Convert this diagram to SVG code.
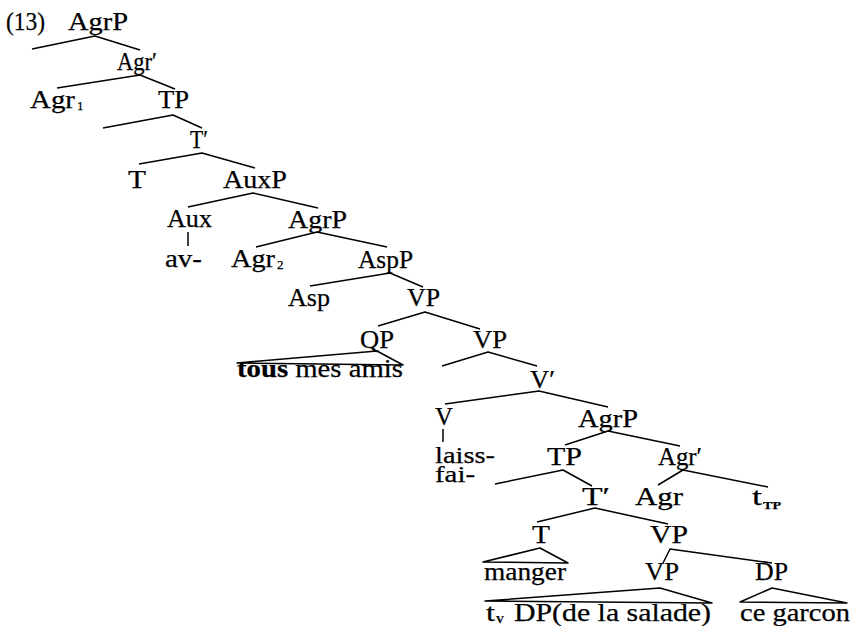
<svg xmlns="http://www.w3.org/2000/svg" width="853" height="626" viewBox="0 0 853 626">
  <style>
    text { font-family: "Liberation Serif", "Times New Roman", serif; font-size: 26px; fill: #000; stroke: #000; stroke-width: 0.25px; }
    .sub { font-size: 13px; }
    .subsc { font-size: 11px; font-weight: bold; }
    .b { font-weight: bold; }
    .lex { font-size: 24px; }
    .edge { fill: none; stroke: #000; stroke-width: 1.5; stroke-linejoin: round; }
  </style>
  <rect width="853" height="626" fill="#fff"/>

  <!-- connectors: branches, unary links and triangles -->
  <g id="connectors" class="edge">
    <polyline points="32,49 95,36 140,50"/>
    <polyline points="57,88 140,75 175,89"/>
    <polyline points="103,128 173,115 202,128"/>
    <polyline points="139,164 202,153 255,168"/>
    <polyline points="188,207 253,193 318,208"/>
    <line x1="188" y1="232" x2="188" y2="246"/>
    <polyline points="256,247 317,232 387,247"/>
    <polyline points="310,286 390,273 423,287"/>
    <polyline points="378,326 425,312 480,329"/>
    <polygon points="377,351 237,363 403,365"/>
    <polyline points="442,366 488,352 537,366"/>
    <polyline points="445,404 539,391 608,407"/>
    <line x1="443" y1="429" x2="443" y2="442"/>
    <polyline points="565,445 608,431 680,446"/>
    <polyline points="495,484 563,470 592,486"/>
    <polyline points="658,485 683,470 768,487"/>
    <polyline points="537,522 595,508 668,524"/>
    <polygon points="540,548 483,562 568,563"/>
    <polyline points="663,563 670,549 772,563"/>
    <polygon points="660,588 485,601 712,603"/>
    <polygon points="772,588 740,602 847,603"/>
  </g>

  <g id="ex-number"><text x="6" y="30" textLength="39" lengthAdjust="spacingAndGlyphs">(13)</text></g>
  <g id="n-agrp1"><text x="68" y="30" textLength="60" lengthAdjust="spacingAndGlyphs">AgrP</text></g>
  <g id="n-agrbar1"><text x="117" y="70" textLength="40" lengthAdjust="spacingAndGlyphs">Agr′</text></g>
  <g id="n-agr1"><text x="30" y="108" textLength="45" lengthAdjust="spacingAndGlyphs">Agr</text><text class="sub" x="77" y="110">1</text></g>
  <g id="n-tp1"><text x="158" y="108" textLength="31" lengthAdjust="spacingAndGlyphs">TP</text></g>
  <g id="n-tbar1"><text x="190" y="148" textLength="18" lengthAdjust="spacingAndGlyphs">T′</text></g>
  <g id="n-t1"><text x="128" y="188" textLength="18" lengthAdjust="spacingAndGlyphs">T</text></g>
  <g id="n-auxp"><text x="223" y="188" textLength="64" lengthAdjust="spacingAndGlyphs">AuxP</text></g>
  <g id="n-aux"><text x="167" y="227" textLength="45" lengthAdjust="spacingAndGlyphs">Aux</text></g>
  <g id="n-av"><text x="165" y="267" textLength="37" lengthAdjust="spacingAndGlyphs">av-</text></g>
  <g id="n-agrp2"><text x="288" y="228" textLength="59" lengthAdjust="spacingAndGlyphs">AgrP</text></g>
  <g id="n-agr2"><text x="231" y="267" textLength="44" lengthAdjust="spacingAndGlyphs">Agr</text><text class="sub" x="277" y="269">2</text></g>
  <g id="n-aspp"><text x="358" y="268" textLength="55" lengthAdjust="spacingAndGlyphs">AspP</text></g>
  <g id="n-asp"><text x="288" y="306" textLength="42" lengthAdjust="spacingAndGlyphs">Asp</text></g>
  <g id="n-vp1"><text x="407" y="306" textLength="33" lengthAdjust="spacingAndGlyphs">VP</text></g>
  <g id="n-qp"><text x="360" y="348" textLength="34" lengthAdjust="spacingAndGlyphs">QP</text></g>
  <g id="n-tous"><text x="237" y="377" textLength="166" lengthAdjust="spacingAndGlyphs"><tspan class="b">tous</tspan> mes amis</text></g>
  <g id="n-vp2"><text x="473" y="348" textLength="34" lengthAdjust="spacingAndGlyphs">VP</text></g>
  <g id="n-vbar"><text x="530" y="388" textLength="25" lengthAdjust="spacingAndGlyphs">V′</text></g>
  <g id="n-v"><text x="435" y="425" textLength="18" lengthAdjust="spacingAndGlyphs">V</text></g>
  <g id="n-laiss"><text class="lex" x="435" y="463" textLength="60" lengthAdjust="spacingAndGlyphs">laiss-</text><text class="lex" x="435" y="482" textLength="40" lengthAdjust="spacingAndGlyphs">fai-</text></g>
  <g id="n-agrp3"><text x="578" y="427" textLength="60" lengthAdjust="spacingAndGlyphs">AgrP</text></g>
  <g id="n-tp2"><text x="547" y="465" textLength="35" lengthAdjust="spacingAndGlyphs">TP</text></g>
  <g id="n-agrbar2"><text x="658" y="465" textLength="44" lengthAdjust="spacingAndGlyphs">Agr′</text></g>
  <g id="n-tbar2"><text x="582" y="505" textLength="28" lengthAdjust="spacingAndGlyphs">T′</text></g>
  <g id="n-agr3"><text x="635" y="505" textLength="48" lengthAdjust="spacingAndGlyphs">Agr</text></g>
  <g id="n-ttp"><text x="752" y="505" textLength="10" lengthAdjust="spacingAndGlyphs">t</text><text class="subsc" x="763" y="509" textLength="18" lengthAdjust="spacingAndGlyphs">TP</text></g>
  <g id="n-t2"><text x="532" y="543" textLength="18" lengthAdjust="spacingAndGlyphs">T</text></g>
  <g id="n-vp3"><text x="650" y="543" textLength="38" lengthAdjust="spacingAndGlyphs">VP</text></g>
  <g id="n-manger"><text x="484" y="580" textLength="82" lengthAdjust="spacingAndGlyphs">manger</text></g>
  <g id="n-vp4"><text x="645" y="580" textLength="34" lengthAdjust="spacingAndGlyphs">VP</text></g>
  <g id="n-dp"><text x="755" y="580" textLength="33" lengthAdjust="spacingAndGlyphs">DP</text></g>
  <g id="n-tv"><text x="486" y="621" textLength="9" lengthAdjust="spacingAndGlyphs">t</text><text class="subsc" x="496" y="623" textLength="8" lengthAdjust="spacingAndGlyphs">V</text><text x="514" y="621" textLength="197" lengthAdjust="spacingAndGlyphs">DP(de la salade)</text></g>
  <g id="n-cegarcon"><text x="740" y="621" textLength="110" lengthAdjust="spacingAndGlyphs">ce garcon</text></g>
</svg>
